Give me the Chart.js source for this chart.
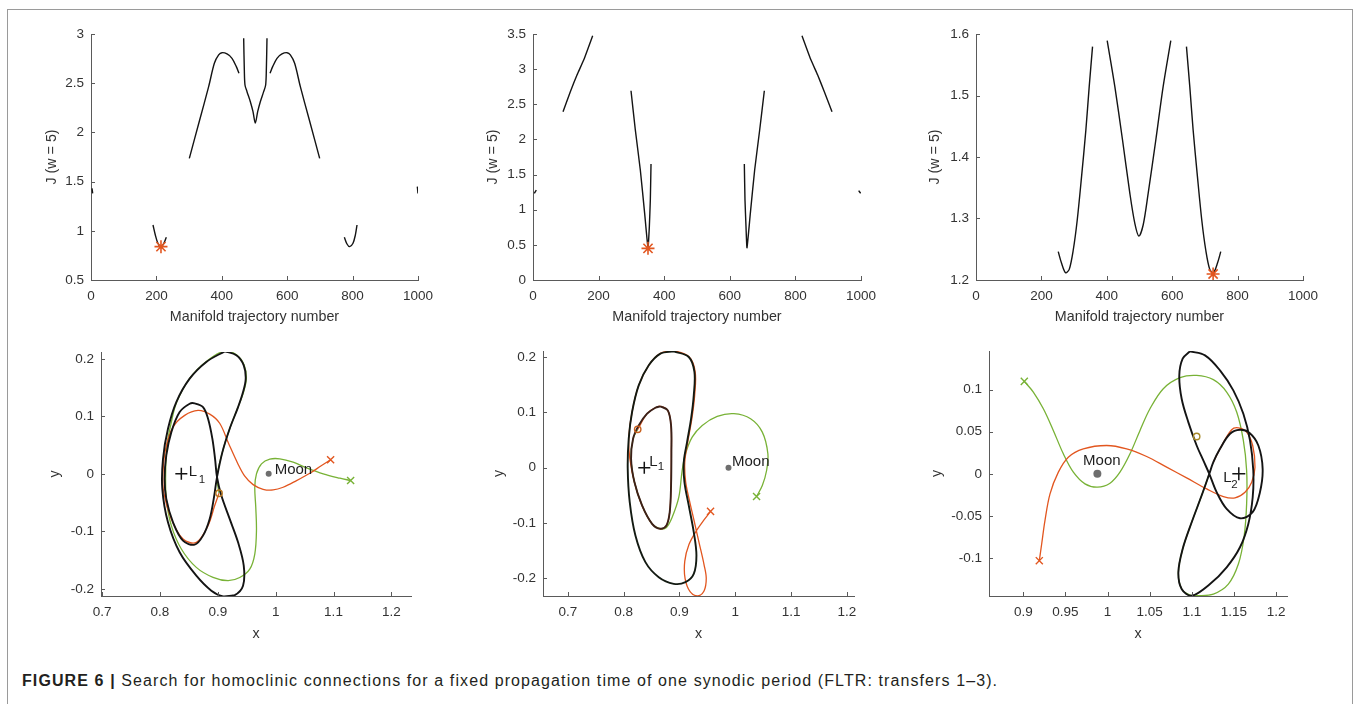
<!DOCTYPE html>
<html><head><meta charset="utf-8">
<script src="https://cdn.jsdelivr.net/npm/chart.js@4/dist/chart.umd.min.js"></script>
<style>
html,body{margin:0;padding:0;background:#fff;width:1360px;height:704px;overflow:hidden;}
#frame{position:absolute;left:7px;top:9px;width:1346px;height:720px;border:1px solid #9a9a9a;box-sizing:border-box;}
.pane{position:absolute;}
.pane canvas{display:block;}
#cap{position:absolute;left:22px;top:672px;font-family:"Liberation Sans",Arial,sans-serif;font-size:16px;letter-spacing:1.1px;color:#231f20;white-space:nowrap;}
</style></head><body>
<div id="frame"></div>
<div id="cap"><b>FIGURE 6 |</b> Search for homoclinic connections for a fixed propagation time of one synodic period (FLTR: transfers 1–3).</div>
<script>
// ---------- tick labels ----------
const topXTicks = [0, 200, 400, 600, 800, 1000];
const p1YTicks = [0.5, 1, 1.5, 2, 2.5, 3];
const p2YTicks = [0, 0.5, 1, 1.5, 2, 2.5, 3, 3.5];
const p3YTicks = [1.2, 1.3, 1.4, 1.5, 1.6];
const p45XTicks = [0.7, 0.8, 0.9, 1, 1.1, 1.2];
const p45YTicks = [-0.2, -0.1, 0, 0.1, 0.2];
const p6XTicks = [0.9, 0.95, 1, 1.05, 1.1, 1.15, 1.2];
const p6YTicks = [-0.1, -0.05, 0, 0.05, 0.1];

// ---------- panel 1 (transfer 1, cost) ----------
const p1SegA = [[3.1,1.432],[5.1,1.381]];
const p1SegB = [[189.6,1.059],[196.7,0.957],[203.9,0.879],[212,0.839],[220.2,0.856],[230.4,0.934]];
const p1SegC = [[300.7,1.736],[332.3,2.126],[359.8,2.465],[377.2,2.702],[390.4,2.787],[400.6,2.81],[415.9,2.797],[431.2,2.753],[444.4,2.668],[452.6,2.6]];
const p1SegD = [[466.9,2.956],[468.9,2.634],[470.9,2.482],[477.1,2.414],[487.3,2.312],[495.4,2.211],[502.5,2.095],[509.7,2.211],[517.8,2.312],[528,2.414],[534.1,2.482],[536.2,2.634],[538.2,2.956]];
const p1SegE = [[547.4,2.6],[555.6,2.668],[568.8,2.753],[584.1,2.797],[599.4,2.81],[609.6,2.787],[622.8,2.702],[640.2,2.465],[667.7,2.126],[699.3,1.736]];
const p1SegF = [[774.7,0.934],[782.9,0.866],[791,0.839],[801.2,0.873],[808.4,0.957],[813.5,1.059]];
const p1SegG = [[997.9,1.449],[1000,1.38]];
const p1Best = [[214,0.839]];

// ---------- panel 2 (transfer 2, cost) ----------
const p2SegA = [[4.1,1.233],[10.2,1.28]];
const p2SegB = [[91.5,2.394],[113.8,2.679],[134.1,2.916],[154.5,3.129],[181.9,3.476]];
const p2SegC = [[298.8,2.693],[312,2.134],[327.2,1.565],[340.4,0.948],[350.6,0.46],[354.7,0.759],[357.7,1.138],[359.8,1.65]];
const p2SegD = [[644.3,1.65],[646.3,1.138],[649.4,0.759],[652.4,0.46],[662.6,0.948],[675.8,1.565],[691.1,2.134],[705.3,2.693]];
const p2SegE = [[820.1,3.476],[847.6,3.129],[867.9,2.916],[888.2,2.679],[911.6,2.394]];
const p2SegF = [[992.9,1.271],[999,1.233]];
const p2Best = [[350.6,0.45]];

// ---------- panel 3 (transfer 3, cost) ----------
const p3SegA = [[251.5,1.2461],[261.7,1.2271],[273.9,1.2119],[285.1,1.2173],[297.4,1.2488],[309.6,1.2976],[322.8,1.368],[336,1.4439],[346.2,1.5144],[356.4,1.5794]];
const p3SegB = [[401.2,1.5892],[424.6,1.5144],[448.1,1.4276],[470.5,1.3409],[485.7,1.2921],[498,1.2715],[511.2,1.2894],[526.5,1.3409],[549.9,1.4276],[572.3,1.5144],[595.7,1.5892]];
const p3SegC = [[643.6,1.5794],[653.8,1.5144],[664,1.4439],[677.2,1.368],[690.4,1.2976],[702.6,1.2488],[714.9,1.2173],[726.1,1.2119],[738.3,1.2271],[748.5,1.2461]];
const p3Best = [[725.1,1.2098]];

// ---------- panel 4 (transfer 1, trajectory) ----------
const p4Orbit = [[0.912,0.2132],[0.9321,0.2063],[0.9448,0.1888],[0.9482,0.1656],[0.9436,0.1424],[0.935,0.1162],[0.9205,0.0785],[0.9079,0.0378],[0.8986,-0.0058],[0.8929,-0.0436],[0.8859,-0.0784],[0.8744,-0.1075],[0.86,-0.1232],[0.8398,-0.1162],[0.8225,-0.0842],[0.8109,-0.0436],[0.808,-0.0087],[0.8109,0.032],[0.8196,0.0726],[0.834,0.1075],[0.8513,0.122],[0.86,0.1226],[0.8744,0.1162],[0.8831,0.0959],[0.8906,0.061],[0.8952,0.0262],[0.8986,-0.0058],[0.9061,-0.0377],[0.9205,-0.0784],[0.935,-0.1191],[0.9448,-0.1597],[0.9436,-0.1946],[0.9292,-0.2109],[0.909,-0.2132],[0.8888,-0.2033],[0.8628,-0.1772],[0.834,-0.1365],[0.8138,-0.0842],[0.804,-0.0261],[0.8052,0.0262],[0.8138,0.0784],[0.8282,0.1249],[0.8513,0.1656],[0.8801,0.1947],[0.912,0.2132]];
const p4Red = [[0.9021,-0.0337],[0.8946,-0.0552],[0.883,-0.09],[0.8629,-0.1191],[0.8398,-0.1133],[0.8196,-0.0784],[0.8063,-0.0319],[0.8052,0.0029],[0.8098,0.0436],[0.8225,0.0814],[0.8427,0.1017],[0.8657,0.1104],[0.886,0.104],[0.9032,0.088],[0.919,0.052],[0.934,0.019],[0.9466,-0.004],[0.961,-0.0187],[0.9783,-0.0268],[0.9956,-0.028],[1.0129,-0.0233],[1.0361,-0.0117],[1.0591,0.0011],[1.0794,0.0145],[1.095,0.0244]];
const p4Green = [[0.9021,-0.0337],[0.8986,-0.0058],[0.9079,0.0378],[0.9205,0.0785],[0.935,0.1162],[0.9445,0.1424],[0.9492,0.1656],[0.9455,0.1895],[0.9321,0.207],[0.912,0.214],[0.8801,0.1955],[0.8513,0.166],[0.829,0.1249],[0.8196,0.0901],[0.8121,0.0494],[0.8098,0.0029],[0.8109,-0.0436],[0.8196,-0.09],[0.8369,-0.1307],[0.8628,-0.1627],[0.8917,-0.1801],[0.9177,-0.1859],[0.9379,-0.1803],[0.9552,-0.1657],[0.9639,-0.1395],[0.9668,-0.0989],[0.9656,-0.0582],[0.9639,-0.0233],[0.9668,0],[0.9755,0.0174],[0.9899,0.0256],[1.0072,0.0262],[1.0302,0.0204],[1.0534,0.0105],[1.0822,0],[1.1111,-0.0076],[1.1296,-0.0116]];
const p4Patch = [[0.9021,-0.0337]];
const p4RedEnd = [[1.095,0.0244]];
const p4GreenEnd = [[1.1296,-0.0116]];

// ---------- panel 5 (transfer 2, trajectory) ----------
const p5OrbitOuter = [[0.8897,0.2103],[0.9166,0.2001],[0.9268,0.173],[0.9256,0.1307],[0.9208,0.0885],[0.9136,0.0463],[0.9077,0.0101],[0.9089,-0.026],[0.9166,-0.0682],[0.9256,-0.1165],[0.9304,-0.1587],[0.9256,-0.1919],[0.9107,-0.2069],[0.8897,-0.2099],[0.8628,-0.1979],[0.8389,-0.1707],[0.821,-0.1225],[0.8108,-0.0622],[0.8072,-0.0019],[0.809,0.0524],[0.815,0.1006],[0.8269,0.1488],[0.8449,0.185],[0.8658,0.2061],[0.8897,0.2103]];
const p5OrbitInner = [[0.8658,0.1109],[0.879,0.1036],[0.8849,0.0765],[0.8855,0.0282],[0.8849,-0.0321],[0.8825,-0.0803],[0.8766,-0.1044],[0.8658,-0.1104],[0.8509,-0.1014],[0.8329,-0.0682],[0.8192,-0.026],[0.8132,0.0162],[0.8168,0.0524],[0.8269,0.0765],[0.8419,0.0976],[0.8568,0.1084],[0.8658,0.1109]];
const p5Red = [[0.8251,0.0693],[0.8419,0.0976],[0.8568,0.1084],[0.8658,0.1109],[0.879,0.1036],[0.8849,0.0765],[0.8855,0.0282],[0.8849,-0.0321],[0.8825,-0.0803],[0.8766,-0.1044],[0.8658,-0.1104],[0.8509,-0.1014],[0.8329,-0.0682],[0.8192,-0.026],[0.811,0.0162],[0.809,0.0524],[0.815,0.1006],[0.8269,0.1488],[0.8449,0.185],[0.8658,0.2065],[0.8897,0.2108],[0.9175,0.2001],[0.9282,0.173],[0.9272,0.1307],[0.9222,0.0885],[0.9148,0.0463],[0.9095,0.0101],[0.911,-0.025],[0.918,-0.06],[0.926,-0.095],[0.935,-0.135],[0.944,-0.175],[0.948,-0.2],[0.944,-0.223],[0.933,-0.2315],[0.919,-0.224],[0.91,-0.2],[0.9095,-0.169],[0.917,-0.139],[0.931,-0.113],[0.945,-0.093],[0.9557,-0.079]];
const p5Green = [[0.8251,0.0693],[0.8168,0.0524],[0.8132,0.0162],[0.8192,-0.026],[0.8329,-0.0682],[0.8509,-0.1014],[0.8658,-0.1104],[0.8766,-0.108],[0.8869,-0.0896],[0.8988,-0.0534],[0.9048,-0.0051],[0.9108,0.0252],[0.9228,0.0552],[0.9408,0.0764],[0.9677,0.0927],[0.9975,0.0976],[1.0275,0.0885],[1.0485,0.0643],[1.0585,0.0251],[1.0562,-0.0051],[1.0485,-0.0322],[1.0382,-0.0521]];
const p5Patch = [[0.8251,0.0693]];
const p5RedEnd = [[0.9557,-0.079]];
const p5GreenEnd = [[1.0382,-0.0521]];

// ---------- panel 6 (transfer 3, trajectory) ----------
const p6Orbit = [[1.0978,0.1456],[1.0891,0.1369],[1.0851,0.117],[1.0879,0.0893],[1.0958,0.0615],[1.1057,0.0337],[1.1136,0.0159],[1.1207,0],[1.1294,-0.0218],[1.1413,-0.0417],[1.1571,-0.0528],[1.1721,-0.0456],[1.1808,-0.0218],[1.184,0.0059],[1.1789,0.0337],[1.1682,0.0488],[1.1571,0.0524],[1.1453,0.0476],[1.1334,0.0297],[1.1255,0.0139],[1.1207,0],[1.1116,-0.0258],[1.0998,-0.0576],[1.0891,-0.0893],[1.084,-0.1171],[1.0879,-0.1369],[1.0997,-0.1449],[1.1215,-0.131],[1.1413,-0.1111],[1.1571,-0.0873],[1.167,-0.0595],[1.1722,-0.0278],[1.1729,0.0039],[1.169,0.0397],[1.1611,0.0714],[1.1492,0.0992],[1.1334,0.123],[1.1156,0.1408],[1.0978,0.1456]];
const p6Red = [[0.919,-0.1032],[0.9218,-0.0834],[0.9257,-0.0556],[0.9317,-0.0238],[0.9416,0.002],[0.9534,0.0198],[0.9712,0.0297],[0.9989,0.0337],[1.0226,0.0297],[1.0464,0.0206],[1.0701,0.0079],[1.0938,-0.0048],[1.1176,-0.0179],[1.1374,-0.027],[1.1512,-0.0286],[1.1631,-0.0219],[1.171,-0.0099],[1.1749,0.0079],[1.1722,0.0337],[1.165,0.0496],[1.1552,0.0547],[1.1472,0.0524],[1.1334,0.0297],[1.1255,0.0139]];
const p6Green = [[0.9012,0.1099],[0.9119,0.0972],[0.9238,0.0773],[0.9356,0.0516],[0.9475,0.0238],[0.9594,0.002],[0.9732,-0.0119],[0.9879,-0.0159],[1.0029,-0.0111],[1.0147,0.002],[1.0266,0.0238],[1.0385,0.0516],[1.0503,0.0773],[1.0661,0.1012],[1.0859,0.1143],[1.1057,0.117],[1.1255,0.1119],[1.1413,0.0972],[1.1532,0.0734],[1.1611,0.0397],[1.165,0.004],[1.165,-0.0357],[1.1619,-0.0754],[1.1552,-0.1072],[1.1433,-0.131],[1.1255,-0.1429],[1.1077,-0.1448],[1.0978,-0.144],[1.0879,-0.1369],[1.084,-0.1171],[1.0891,-0.0893],[1.0998,-0.0576],[1.1116,-0.0258],[1.1207,0]];
const p6Patch = [[1.1057,0.0444]];
const p6RedEnd = [[0.919,-0.1032]];
const p6GreenEnd = [[0.9012,0.1099]];

// ---------- bodies ----------
const moonPos = [[0.9879, 0]];
const l1Pos = [[0.8369, 0]];
const l2Pos = [[1.1557, 0]];

// ---------- styling ----------
const FF = '"Liberation Sans", Arial, Helvetica, sans-serif';
const AX = '#5a5a5a';
const TC = '#333333';
const RED = '#E2561F';
const GRN = '#78B236';
const BLK = '#141414';

const pts = a => a.map(([x, y]) => ({x, y}));
const fmt = v => String(Math.round(v * 1000) / 1000);
function line(a, color, w, t) {
  return {data: pts(a), showLine: true, borderColor: color, borderWidth: w, pointRadius: 0, tension: t, fill: false};
}
function mark(a, style, color, r, bw, bg) {
  return {data: pts(a), showLine: false, pointStyle: style, pointRadius: r, borderColor: color, backgroundColor: bg || 'rgba(0,0,0,0)', borderWidth: bw};
}

const inTicks = {
  id: 'inTicks',
  afterDatasetsDraw(chart) {
    const {ctx, chartArea: a, scales: {x, y}} = chart;
    ctx.save();
    ctx.strokeStyle = AX; ctx.lineWidth = 1;
    x.ticks.forEach(t => {
      const px = Math.round(x.getPixelForValue(t.value)) + 0.5;
      ctx.beginPath(); ctx.moveTo(px, a.bottom); ctx.lineTo(px, a.bottom - 4); ctx.stroke();
    });
    y.ticks.forEach(t => {
      const py = Math.round(y.getPixelForValue(t.value)) + 0.5;
      ctx.beginPath(); ctx.moveTo(a.left, py); ctx.lineTo(a.left + 4, py); ctx.stroke();
    });
    ctx.restore();
  }
};

function textPlugin(items) {
  return {
    id: 'texts',
    afterDatasetsDraw(chart) {
      const {ctx, scales: {x, y}} = chart;
      ctx.save();
      ctx.fillStyle = '#1e1e1e';
      ctx.textBaseline = 'middle';
      items.forEach(it => {
        const px = x.getPixelForValue(it.at[0]) + it.dx;
        const py = y.getPixelForValue(it.at[1]) + it.dy;
        ctx.font = it.size + 'px ' + FF;
        ctx.textAlign = it.align || 'left';
        ctx.fillText(it.text, px, py);
      });
      ctx.restore();
    }
  };
}

function makePanel(g, xs, ys, datasets, texts) {
  const left = g.L - 70, top = g.T - 20, right = g.R + 24, bottom = g.B + 56;
  const W = Math.round(right - left), H = Math.round(bottom - top);
  const wrap = document.createElement('div');
  wrap.className = 'pane';
  wrap.style.left = left + 'px'; wrap.style.top = top + 'px';
  wrap.style.width = W + 'px'; wrap.style.height = H + 'px';
  const cv = document.createElement('canvas');
  cv.width = W; cv.height = H; cv.style.width = W + 'px'; cv.style.height = H + 'px';
  wrap.appendChild(cv);
  document.body.appendChild(wrap);
  const tFont = {family: FF, size: 13.5};
  const lFont = {family: FF, size: 14.3};
  const lh = 14.3 * 1.2;
  new Chart(cv, {
    type: 'scatter',
    data: {datasets},
    plugins: [inTicks, textPlugin(texts || [])],
    options: {
      responsive: false, animation: false, devicePixelRatio: 1,
      layout: {padding: {left: 0, top: g.T - top, right: right - g.R, bottom: 0}},
      plugins: {legend: {display: false}, tooltip: {enabled: false}},
      scales: {
        x: {
          type: 'linear', position: 'bottom', min: xs.min, max: xs.max,
          afterBuildTicks: s => { s.ticks = xs.ticks.map(v => ({value: v})); },
          afterFit: s => { s.height = bottom - g.B; },
          grid: {display: false, drawTicks: false},
          border: {display: true, color: AX, width: 1},
          ticks: {padding: 8, color: TC, font: tFont, callback: v => fmt(v), maxRotation: 0, autoSkip: false},
          title: {display: true, text: xs.title, color: TC, font: lFont, padding: {top: 0, bottom: bottom - lh / 2 - g.xty}}
        },
        y: {
          type: 'linear', position: 'left', min: ys.min, max: ys.max,
          afterBuildTicks: s => { s.ticks = ys.ticks.map(v => ({value: v})); },
          afterFit: s => { s.width = g.L - left; },
          grid: {display: false, drawTicks: false},
          border: {display: true, color: AX, width: 1},
          ticks: {padding: 7, color: TC, font: tFont, callback: v => fmt(v), autoSkip: false},
          title: {display: true, text: ys.title, color: TC, font: lFont, padding: {top: g.ytx - left - lh / 2, bottom: 0}}
        }
      }
    }
  });
}

const JT = 'J (w = 5)', MT = 'Manifold trajectory number';

// panel 1
makePanel({L: 91, T: 34, R: 418, B: 280, ytx: 51.7, xty: 317.5},
  {min: 0, max: 1000, ticks: topXTicks, title: MT},
  {min: 0.5, max: 3, ticks: p1YTicks, title: JT},
  [mark(p1Best, 'star', RED, 6.5, 1.6),
   ...[p1SegA, p1SegB, p1SegC, p1SegD, p1SegE, p1SegF, p1SegG].map(s => line(s, BLK, 1.4, 0.3))]);

// panel 2
makePanel({L: 533, T: 34, R: 861, B: 280, ytx: 493.3, xty: 316.7},
  {min: 0, max: 1000, ticks: topXTicks, title: MT},
  {min: 0, max: 3.5, ticks: p2YTicks, title: JT},
  [mark(p2Best, 'star', RED, 6.5, 1.6),
   ...[p2SegA, p2SegB, p2SegC, p2SegD, p2SegE, p2SegF].map(s => line(s, BLK, 1.4, 0.15))]);

// panel 3
makePanel({L: 976, T: 34, R: 1303, B: 280, ytx: 935, xty: 316.7},
  {min: 0, max: 1000, ticks: topXTicks, title: MT},
  {min: 1.2, max: 1.6, ticks: p3YTicks, title: JT},
  [mark(p3Best, 'star', RED, 6.5, 1.6),
   ...[p3SegA, p3SegB, p3SegC].map(s => line(s, BLK, 1.4, 0.3))]);

// panel 4
makePanel({L: 101, T: 351.7, R: 411, B: 595.3, ytx: 55, xty: 633.3},
  {min: 0.698, max: 1.234, ticks: p45XTicks, title: 'x'},
  {min: -0.2125, max: 0.212, ticks: p45YTicks, title: 'y'},
  [mark(p4Patch, 'circle', '#B8761E', 3.2, 1.4),
   mark(p4RedEnd, 'crossRot', RED, 5, 1.4),
   mark(p4GreenEnd, 'crossRot', GRN, 5, 1.4),
   mark(moonPos, 'circle', '#6e6e6e', 3, 0, '#6e6e6e'),
   mark(l1Pos, 'cross', BLK, 6, 1.5),
   line(p4Orbit, BLK, 1.9, 0.35),
   line(p4Red, RED, 1.3, 0.35),
   line(p4Green, GRN, 1.3, 0.35)],
  [{at: moonPos[0], dx: 6, dy: -4, text: 'Moon', size: 15},
   {at: l1Pos[0], dx: 7.5, dy: -1.5, text: 'L', size: 15},
   {at: l1Pos[0], dx: 17.5, dy: 6, text: '1', size: 11.5}]);

// panel 5
makePanel({L: 542.7, T: 350.7, R: 853.3, B: 595.3, ytx: 498.3, xty: 633.3},
  {min: 0.6553, max: 1.2129, ticks: p45XTicks, title: 'x'},
  {min: -0.2319, max: 0.2109, ticks: p45YTicks, title: 'y'},
  [mark(p5Patch, 'circle', '#C8601E', 3.2, 1.4),
   mark(p5RedEnd, 'crossRot', RED, 5, 1.4),
   mark(p5GreenEnd, 'crossRot', GRN, 5, 1.4),
   mark(moonPos, 'circle', '#6e6e6e', 3, 0, '#6e6e6e'),
   mark(l1Pos, 'cross', BLK, 6, 1.5),
   line(p5OrbitInner, '#3a2119', 1.9, 0.35),
   line(p5OrbitOuter, '#131a12', 1.9, 0.35),
   line(p5Red, RED, 1.3, 0.35),
   line(p5Green, GRN, 1.3, 0.35)],
  [{at: moonPos[0], dx: 3.5, dy: -5.5, text: 'Moon', size: 15},
   {at: l1Pos[0], dx: 5, dy: -6, text: 'L', size: 15},
   {at: l1Pos[0], dx: 13.5, dy: -1, text: '1', size: 11.5}]);

// panel 6
makePanel({L: 989, T: 350.7, R: 1287, B: 595.3, ytx: 936.7, xty: 633.3},
  {min: 0.8593, max: 1.2129, ticks: p6XTicks, title: 'x'},
  {min: -0.1452, max: 0.146, ticks: p6YTicks, title: 'y'},
  [mark(p6Patch, 'circle', '#A88A2A', 3.2, 1.4),
   mark(p6RedEnd, 'crossRot', RED, 5, 1.4),
   mark(p6GreenEnd, 'crossRot', GRN, 5, 1.4),
   mark(moonPos, 'circle', '#6e6e6e', 4, 0, '#6e6e6e'),
   mark(l2Pos, 'cross', BLK, 6.5, 1.5),
   line(p6Orbit, BLK, 1.9, 0.35),
   line(p6Red, RED, 1.3, 0.35),
   line(p6Green, GRN, 1.3, 0.35)],
  [{at: moonPos[0], dx: 4.5, dy: -12.5, text: 'Moon', size: 15, align: 'center'},
   {at: l2Pos[0], dx: -15.5, dy: 4, text: 'L', size: 15},
   {at: l2Pos[0], dx: -7.5, dy: 10.5, text: '2', size: 11.5}]);
</script>
</body></html>
